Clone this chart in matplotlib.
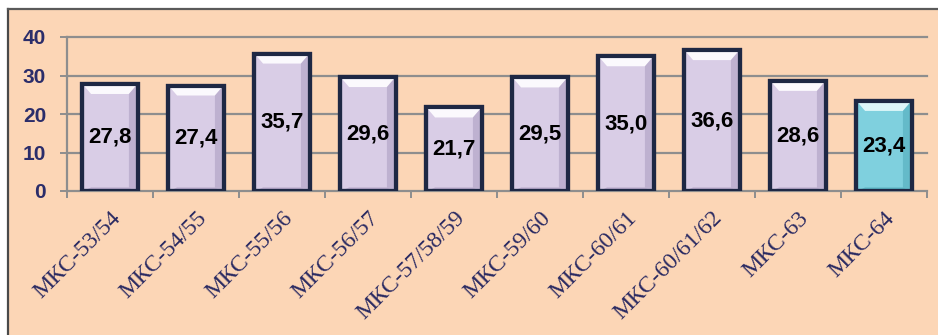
import matplotlib
matplotlib.use("Agg")
import matplotlib.pyplot as plt
from matplotlib.patches import Rectangle, Polygon
from matplotlib.lines import Line2D
import numpy as np

categories = ["МКС-53/54", "МКС-54/55", "МКС-55/56", "МКС-56/57", "МКС-57/58/59",
              "МКС-59/60", "МКС-60/61", "МКС-60/61/62", "МКС-63", "МКС-64"]
values = [27.8, 27.4, 35.7, 29.6, 21.7, 29.5, 35.0, 36.6, 28.6, 23.4]
labels = ["27,8", "27,4", "35,7", "29,6", "21,7", "29,5", "35,0", "36,6", "28,6", "23,4"]
yticks = [0, 10, 20, 30, 40]

W, H = 938, 335
fig = plt.figure(figsize=(W / 100, H / 100), dpi=100)
fig.patch.set_facecolor("white")

peach = "#FCD6B6"
fig.patches.append(Rectangle((8 / W, 0), 1 - 8 / W, 1 - 9 / H, transform=fig.transFigure,
                             facecolor=peach, edgecolor="none", zorder=-10))
fig.lines.append(Line2D([8 / W, 8 / W], [0, 1 - 9 / H], transform=fig.transFigure,
                        color="#4A4A4A", lw=1.6, zorder=-9))
fig.lines.append(Line2D([8 / W, 1], [1 - 9 / H, 1 - 9 / H], transform=fig.transFigure,
                        color="#5A5A5A", lw=1.6, zorder=-9))

ax = fig.add_axes([67 / W, (H - 191) / H, (927 - 67) / W, 154 / H])
ax.set_zorder(5)
ax.set_facecolor("none")
for s in ax.spines.values():
    s.set_visible(False)

x = np.arange(len(categories))
ax.set_xlim(-0.5, len(categories) - 0.5)
ax.set_ylim(0, 40)

grid_c = "#8E8E8E"
for yv in yticks:
    ax.axhline(yv, color=grid_c, lw=1.6, zorder=1, clip_on=False)
ax.axvline(-0.5, color=grid_c, lw=1.6, zorder=1, clip_on=False)

# ticks
ax.set_yticks(yticks)
ax.set_yticklabels([str(v) for v in yticks], fontsize=15, fontweight="bold",
                   color="#2B2D6A", family="Liberation Sans")
ax.tick_params(axis="y", length=5, width=1.4, color=grid_c, pad=10)
ax.set_xticks(np.arange(len(categories) + 1) - 0.5, minor=True)
ax.tick_params(axis="x", which="minor", length=5, width=1.4, color=grid_c, direction="out")
ax.set_xticks(x)
ax.set_xticklabels(categories, rotation=45, ha="right", va="top", rotation_mode="anchor",
                   fontsize=17, color="#2A2A62", family="Liberation Serif")
ax.tick_params(axis="x", which="major", length=0, pad=12)

colors = ["#D9CDE6"] * (len(values) - 1) + ["#7FD0DE"]
tops = ["#FBF9FD"] * (len(values) - 1) + ["#DDF6F9"]
sides = ["#A99BBE"] * (len(values) - 1) + ["#4FA9B8"]
bw = 0.64
bars = ax.bar(x, values, width=bw, color=colors, edgecolor="#1E2844", linewidth=3, zorder=3)

# bevel effects computed from data
for xi, v, tc, sc in zip(x, values, tops, sides):
    l, r = xi - bw / 2, xi + bw / 2
    d = 0.1
    dy = 2.6
    ax.add_patch(Polygon([[l, v], [r, v], [r - d, v - dy], [l + d, v - dy]],
                         closed=True, facecolor=tc, edgecolor="none", zorder=3.5))
    ax.add_patch(Polygon([[r, v], [r, 0], [r - d, 0.9], [r - d, v - dy]],
                         closed=True, facecolor=sc, edgecolor="none", alpha=0.55, zorder=3.5))
    ax.add_patch(Polygon([[l, 0], [r, 0], [r - d, 0.9], [l + d, 0.9]],
                         closed=True, facecolor=sc, edgecolor="none", alpha=0.8, zorder=3.5))
    ax.add_patch(Rectangle((l, 0), bw, v, facecolor="none", edgecolor="#1E2844",
                           linewidth=3, zorder=4))

for xi, v, lab in zip(x, values, labels):
    ax.text(xi, v / 2, lab, ha="center", va="center", fontsize=16, fontweight="bold",
            color="black", family="Liberation Sans", zorder=5)

fig.savefig("out.png", dpi=100, facecolor=fig.get_facecolor())
